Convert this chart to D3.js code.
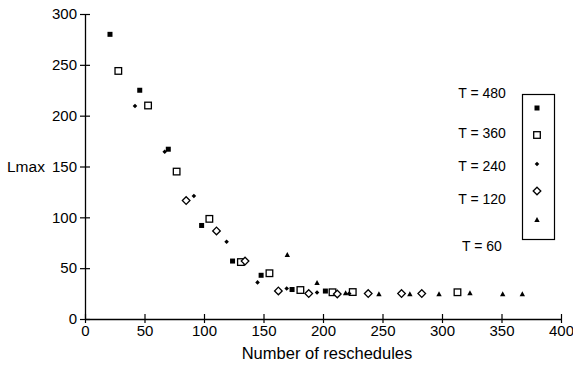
<!DOCTYPE html>
<html>
<head>
<meta charset="utf-8">
<script src="https://cdn.jsdelivr.net/npm/d3@7"></script>
<style>
    body { margin: 0; background: #fff; }
    text { font-family: "Liberation Sans", Arial, sans-serif; fill: #000; }
</style>
</head>
<body>
<div id="chart"></div>
<script>

// Data: [reschedules, Lmax]
const t480 = [[21, 280], [46, 225], [70, 167], [98, 92], [124, 57], [148, 43], [174, 29], [202, 27.5]];
const t360 = [[28, 244], [53, 210], [77, 145], [104.5, 98.5], [131, 56], [155, 45], [181, 28.5], [208, 26.3], [225, 26.5], [313, 26.3]];
const t240 = [[42, 209.5], [67, 164.5], [91.5, 121], [119, 76], [145, 36], [169.5, 30], [195, 26], [222, 25]];
const t120 = [[85, 116.5], [110.5, 86.6], [134.5, 57], [162.5, 27.6], [188, 25], [212, 24.6], [238, 25], [266, 25], [283, 25]];
const t60 = [[170, 63], [195, 35.4], [219, 25.3], [247, 24.3], [273, 24.3], [297.5, 24.3], [323.5, 25.3], [351, 24.3], [367.5, 24.3]];

const seriesNames = ["T = 480", "T = 360", "T = 240", "T = 120", "T = 60"];
const xTicks = [0, 50, 100, 150, 200, 250, 300, 350, 400];
const yTicks = [0, 50, 100, 150, 200, 250, 300];

const series = [
    {name: seriesNames[0], values: t480, shape: "fsquare"},
    {name: seriesNames[1], values: t360, shape: "osquare"},
    {name: seriesNames[2], values: t240, shape: "dot"},
    {name: seriesNames[3], values: t120, shape: "diamond"},
    {name: seriesNames[4], values: t60, shape: "triangle"}
];

let width = 573, height = 366;

let svg = d3.select("#chart").append("svg")
    .attr("width", width)
    .attr("height", height);

let x = d3.scaleLinear().domain([0, 400]).range([85, 561]);
let y = d3.scaleLinear().domain([0, 300]).range([319, 14]);

// axes, ticks cross the line
let xAxis = svg.append("g")
    .attr("transform", `translate(0, ${y(0)})`)
    .call(d3.axisBottom(x).tickValues(xTicks).tickSize(0).tickPadding(6));
xAxis.select(".domain").attr("stroke", "#000").attr("stroke-width", 1.3);
xAxis.selectAll(".tick").append("line")
    .attr("y1", -5).attr("y2", 4)
    .attr("stroke", "#000").attr("stroke-width", 1.2);
xAxis.selectAll("text").attr("font-size", 15).attr("font-family", "Liberation Sans, Arial, sans-serif");

let yAxis = svg.append("g")
    .attr("transform", `translate(${x(0)}, 0)`)
    .call(d3.axisLeft(y).tickValues(yTicks).tickSize(0).tickPadding(8));
yAxis.select(".domain").attr("stroke", "#000").attr("stroke-width", 1.3);
yAxis.selectAll(".tick").append("line")
    .attr("x1", -5).attr("x2", 5)
    .attr("stroke", "#000").attr("stroke-width", 1.2);
yAxis.selectAll("text").attr("font-size", 15).attr("font-family", "Liberation Sans, Arial, sans-serif");

svg.append("text")
    .attr("x", (x(0) + x(400)) / 2 + 4)
    .attr("y", 359)
    .attr("text-anchor", "middle")
    .attr("font-size", 16.5)
    .text("Number of reschedules");

svg.append("text")
    .attr("x", 7)
    .attr("y", y(150) + 5.5)
    .attr("font-size", 15.5)
    .text("Lmax");

// marker drawing
function drawMarker(g, shape) {
    if (shape === "fsquare") {
        g.append("rect").attr("x", -2.5).attr("y", -2.5).attr("width", 5).attr("height", 5).attr("fill", "#000");
    } else if (shape === "osquare") {
        g.append("rect").attr("x", -3.3).attr("y", -3.3).attr("width", 6.6).attr("height", 6.6)
            .attr("fill", "#fff").attr("stroke", "#000").attr("stroke-width", 1.3);
    } else if (shape === "dot") {
        g.append("path").attr("d", "M0,-2.3 L2.3,0 L0,2.3 L-2.3,0 Z").attr("fill", "#000");
    } else if (shape === "diamond") {
        g.append("path").attr("d", "M0,-3.8 L3.8,0 L0,3.8 L-3.8,0 Z")
            .attr("fill", "#fff").attr("stroke", "#000").attr("stroke-width", 1.3);
    } else if (shape === "triangle") {
        g.append("path").attr("d", "M0,-3 L2.7,2 L-2.7,2 Z").attr("fill", "#000");
    }
}

series.forEach(function(s) {
    svg.append("g").selectAll("g")
        .data(s.values)
        .enter()
        .append("g")
        .attr("transform", d => `translate(${x(d[0])}, ${y(d[1])})`)
        .each(function() { drawMarker(d3.select(this), s.shape); });
});

// legend: labels sit to the left of the box, not quite level with the markers
let labelY = [98, 138, 171, 204, 251];
let markY = [108, 135, 164, 191, 220];

svg.append("rect")
    .attr("x", 522.5).attr("y", 94.5)
    .attr("width", 32).attr("height", 145)
    .attr("fill", "none").attr("stroke", "#000").attr("stroke-width", 1.2);

series.forEach(function(s, i) {
    svg.append("text")
        .attr("x", 482)
        .attr("y", labelY[i])
        .attr("text-anchor", "middle")
        .attr("font-size", 14)
        .text(s.name);
    let g = svg.append("g").attr("transform", `translate(537, ${markY[i]})`);
    drawMarker(g, s.shape);
});

</script>
</body>
</html>
